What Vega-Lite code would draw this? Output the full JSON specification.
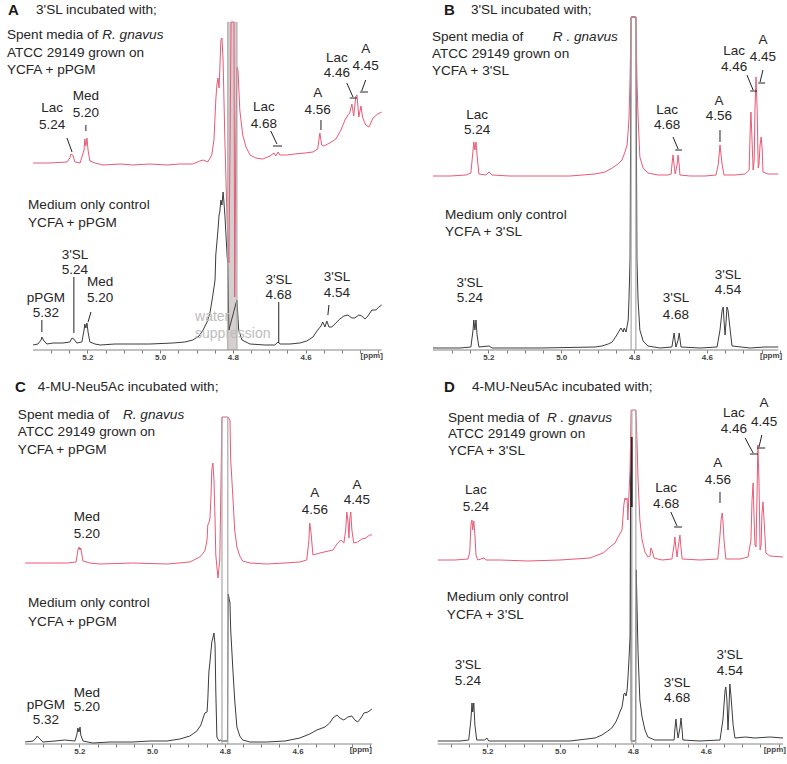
{
"$schema":"https://vega.github.io/schema/vega-lite/v6.json",
"padding":0,"background":"white","bounds":"flush","columns":2,"spacing":{"row":28,"column":40},
"config":{"view":{"stroke":null},"font":"Liberation Sans","axis":{"domain":false,"grid":false,"tickSize":3,"tickColor":"#555","tickWidth":0.8,"labelFontSize":8,"labelFontWeight":"bold","labelColor":"#444","labelPadding":0,"title":null,"labelOverlap":false}},
"datasets":{
"spec":[
{"p":"A","s":"r","x":5.349,"y":187},{"p":"A","s":"r","x":5.303,"y":187},{"p":"A","s":"r","x":5.256,"y":188},{"p":"A","s":"r","x":5.248,"y":192},{"p":"A","s":"r","x":5.245,"y":196},{"p":"A","s":"r","x":5.240,"y":195},{"p":"A","s":"r","x":5.234,"y":188},{"p":"A","s":"r","x":5.220,"y":187},{"p":"A","s":"r","x":5.209,"y":200},{"p":"A","s":"r","x":5.207,"y":211},{"p":"A","s":"r","x":5.204,"y":204},{"p":"A","s":"r","x":5.201,"y":212},{"p":"A","s":"r","x":5.198,"y":200},{"p":"A","s":"r","x":5.193,"y":189},{"p":"A","s":"r","x":5.179,"y":187},{"p":"A","s":"r","x":5.157,"y":185},{"p":"A","s":"r","x":5.110,"y":186},{"p":"A","s":"r","x":5.075,"y":185},{"p":"A","s":"r","x":5.028,"y":186},{"p":"A","s":"r","x":4.981,"y":185},{"p":"A","s":"r","x":4.946,"y":186},{"p":"A","s":"r","x":4.910,"y":186},{"p":"A","s":"r","x":4.891,"y":189},{"p":"A","s":"r","x":4.882,"y":190},{"p":"A","s":"r","x":4.869,"y":188},{"p":"A","s":"r","x":4.858,"y":195},{"p":"A","s":"r","x":4.852,"y":210},{"p":"A","s":"r","x":4.847,"y":250},{"p":"A","s":"r","x":4.844,"y":265},{"p":"A","s":"r","x":4.841,"y":272},{"p":"A","s":"r","x":4.838,"y":262},{"p":"A","s":"r","x":4.836,"y":280},{"p":"A","s":"r","x":4.833,"y":310},{"p":"A","s":"r","x":4.830,"y":312},{"p":"A","s":"r","x":4.827,"y":290},{"p":"A","s":"r","x":4.822,"y":210},{"p":"A","s":"r","x":4.816,"y":130},{"p":"A","s":"r","x":4.811,"y":87},{"p":"A","s":"r","x":4.808,"y":200},{"p":"A","s":"r","x":4.805,"y":328},{"p":"A","s":"r","x":4.797,"y":328},{"p":"A","s":"r","x":4.795,"y":53},{"p":"A","s":"r","x":4.792,"y":200},{"p":"A","s":"r","x":4.789,"y":283},{"p":"A","s":"r","x":4.786,"y":280},{"p":"A","s":"r","x":4.781,"y":240},{"p":"A","s":"r","x":4.773,"y":215},{"p":"A","s":"r","x":4.764,"y":203},{"p":"A","s":"r","x":4.753,"y":195},{"p":"A","s":"r","x":4.737,"y":192},{"p":"A","s":"r","x":4.718,"y":191},{"p":"A","s":"r","x":4.698,"y":194},{"p":"A","s":"r","x":4.687,"y":197},{"p":"A","s":"r","x":4.682,"y":194},{"p":"A","s":"r","x":4.676,"y":198},{"p":"A","s":"r","x":4.671,"y":195},{"p":"A","s":"r","x":4.652,"y":195},{"p":"A","s":"r","x":4.630,"y":196},{"p":"A","s":"r","x":4.602,"y":197},{"p":"A","s":"r","x":4.580,"y":198},{"p":"A","s":"r","x":4.567,"y":201},{"p":"A","s":"r","x":4.561,"y":217},{"p":"A","s":"r","x":4.556,"y":205},{"p":"A","s":"r","x":4.550,"y":204},{"p":"A","s":"r","x":4.534,"y":207},{"p":"A","s":"r","x":4.517,"y":211},{"p":"A","s":"r","x":4.503,"y":220},{"p":"A","s":"r","x":4.492,"y":230},{"p":"A","s":"r","x":4.484,"y":235},{"p":"A","s":"r","x":4.479,"y":237},{"p":"A","s":"r","x":4.473,"y":246},{"p":"A","s":"r","x":4.468,"y":234},{"p":"A","s":"r","x":4.462,"y":254},{"p":"A","s":"r","x":4.459,"y":255},{"p":"A","s":"r","x":4.454,"y":233},{"p":"A","s":"r","x":4.448,"y":244},{"p":"A","s":"r","x":4.443,"y":232},{"p":"A","s":"r","x":4.435,"y":225},{"p":"A","s":"r","x":4.426,"y":223},{"p":"A","s":"r","x":4.415,"y":232},{"p":"A","s":"r","x":4.402,"y":236},{"p":"A","s":"r","x":4.391,"y":238},
{"p":"A","s":"k","x":5.349,"y":5},{"p":"A","s":"k","x":5.336,"y":6},{"p":"A","s":"k","x":5.327,"y":10},{"p":"A","s":"k","x":5.325,"y":13},{"p":"A","s":"k","x":5.319,"y":9},{"p":"A","s":"k","x":5.311,"y":6},{"p":"A","s":"k","x":5.294,"y":7},{"p":"A","s":"k","x":5.267,"y":7},{"p":"A","s":"k","x":5.248,"y":8},{"p":"A","s":"k","x":5.242,"y":12},{"p":"A","s":"k","x":5.237,"y":11},{"p":"A","s":"k","x":5.229,"y":7},{"p":"A","s":"k","x":5.215,"y":8},{"p":"A","s":"k","x":5.209,"y":20},{"p":"A","s":"k","x":5.207,"y":26},{"p":"A","s":"k","x":5.204,"y":22},{"p":"A","s":"k","x":5.201,"y":27},{"p":"A","s":"k","x":5.198,"y":18},{"p":"A","s":"k","x":5.193,"y":8},{"p":"A","s":"k","x":5.179,"y":6},{"p":"A","s":"k","x":5.165,"y":5},{"p":"A","s":"k","x":5.124,"y":6},{"p":"A","s":"k","x":5.075,"y":6},{"p":"A","s":"k","x":5.028,"y":6},{"p":"A","s":"k","x":4.965,"y":7},{"p":"A","s":"k","x":4.932,"y":8},{"p":"A","s":"k","x":4.910,"y":10},{"p":"A","s":"k","x":4.893,"y":14},{"p":"A","s":"k","x":4.882,"y":20},{"p":"A","s":"k","x":4.871,"y":28},{"p":"A","s":"k","x":4.863,"y":37},{"p":"A","s":"k","x":4.855,"y":55},{"p":"A","s":"k","x":4.849,"y":70},{"p":"A","s":"k","x":4.847,"y":95},{"p":"A","s":"k","x":4.841,"y":120},{"p":"A","s":"k","x":4.838,"y":135},{"p":"A","s":"k","x":4.836,"y":138},{"p":"A","s":"k","x":4.833,"y":150},{"p":"A","s":"k","x":4.830,"y":145},{"p":"A","s":"k","x":4.827,"y":158},{"p":"A","s":"k","x":4.825,"y":150},{"p":"A","s":"k","x":4.822,"y":135},{"p":"A","s":"k","x":4.819,"y":115},{"p":"A","s":"k","x":4.816,"y":95},{"p":"A","s":"k","x":4.814,"y":85},{"p":"A","s":"k","x":4.811,"y":20},{"p":"A","s":"k","x":4.789,"y":50},{"p":"A","s":"k","x":4.784,"y":20},{"p":"A","s":"k","x":4.775,"y":10},{"p":"A","s":"k","x":4.753,"y":6},{"p":"A","s":"k","x":4.712,"y":5},{"p":"A","s":"k","x":4.685,"y":5},{"p":"A","s":"k","x":4.676,"y":8},{"p":"A","s":"k","x":4.671,"y":6},{"p":"A","s":"k","x":4.643,"y":6},{"p":"A","s":"k","x":4.616,"y":7},{"p":"A","s":"k","x":4.597,"y":9},{"p":"A","s":"k","x":4.580,"y":13},{"p":"A","s":"k","x":4.567,"y":20},{"p":"A","s":"k","x":4.558,"y":24},{"p":"A","s":"k","x":4.553,"y":28},{"p":"A","s":"k","x":4.547,"y":23},{"p":"A","s":"k","x":4.542,"y":29},{"p":"A","s":"k","x":4.536,"y":23},{"p":"A","s":"k","x":4.528,"y":23},{"p":"A","s":"k","x":4.517,"y":27},{"p":"A","s":"k","x":4.506,"y":31},{"p":"A","s":"k","x":4.495,"y":34},{"p":"A","s":"k","x":4.484,"y":35},{"p":"A","s":"k","x":4.473,"y":32},{"p":"A","s":"k","x":4.465,"y":32},{"p":"A","s":"k","x":4.454,"y":35},{"p":"A","s":"k","x":4.446,"y":34},{"p":"A","s":"k","x":4.437,"y":31},{"p":"A","s":"k","x":4.429,"y":34},{"p":"A","s":"k","x":4.418,"y":40},{"p":"A","s":"k","x":4.407,"y":40},{"p":"A","s":"k","x":4.399,"y":43},{"p":"A","s":"k","x":4.391,"y":45},
{"p":"B","s":"r","x":5.352,"y":174},{"p":"B","s":"r","x":5.305,"y":174},{"p":"B","s":"r","x":5.261,"y":175},{"p":"B","s":"r","x":5.248,"y":177},{"p":"B","s":"r","x":5.242,"y":200},{"p":"B","s":"r","x":5.240,"y":208},{"p":"B","s":"r","x":5.237,"y":200},{"p":"B","s":"r","x":5.234,"y":208},{"p":"B","s":"r","x":5.231,"y":195},{"p":"B","s":"r","x":5.226,"y":176},{"p":"B","s":"r","x":5.207,"y":175},{"p":"B","s":"r","x":5.198,"y":178},{"p":"B","s":"r","x":5.190,"y":175},{"p":"B","s":"r","x":5.141,"y":174},{"p":"B","s":"r","x":5.058,"y":174},{"p":"B","s":"r","x":4.976,"y":174},{"p":"B","s":"r","x":4.907,"y":176},{"p":"B","s":"r","x":4.880,"y":178},{"p":"B","s":"r","x":4.860,"y":182},{"p":"B","s":"r","x":4.844,"y":186},{"p":"B","s":"r","x":4.833,"y":190},{"p":"B","s":"r","x":4.825,"y":198},{"p":"B","s":"r","x":4.819,"y":205},{"p":"B","s":"r","x":4.814,"y":230},{"p":"B","s":"r","x":4.811,"y":270},{"p":"B","s":"r","x":4.808,"y":333},{"p":"B","s":"r","x":4.795,"y":333},{"p":"B","s":"r","x":4.792,"y":270},{"p":"B","s":"r","x":4.789,"y":233},{"p":"B","s":"r","x":4.784,"y":193},{"p":"B","s":"r","x":4.775,"y":182},{"p":"B","s":"r","x":4.762,"y":177},{"p":"B","s":"r","x":4.734,"y":175},{"p":"B","s":"r","x":4.707,"y":175},{"p":"B","s":"r","x":4.698,"y":176},{"p":"B","s":"r","x":4.696,"y":185},{"p":"B","s":"r","x":4.693,"y":195},{"p":"B","s":"r","x":4.690,"y":185},{"p":"B","s":"r","x":4.687,"y":176},{"p":"B","s":"r","x":4.682,"y":185},{"p":"B","s":"r","x":4.679,"y":195},{"p":"B","s":"r","x":4.676,"y":185},{"p":"B","s":"r","x":4.674,"y":175},{"p":"B","s":"r","x":4.646,"y":174},{"p":"B","s":"r","x":4.605,"y":174},{"p":"B","s":"r","x":4.575,"y":175},{"p":"B","s":"r","x":4.569,"y":185},{"p":"B","s":"r","x":4.564,"y":205},{"p":"B","s":"r","x":4.558,"y":185},{"p":"B","s":"r","x":4.553,"y":175},{"p":"B","s":"r","x":4.523,"y":175},{"p":"B","s":"r","x":4.495,"y":176},{"p":"B","s":"r","x":4.484,"y":180},{"p":"B","s":"r","x":4.481,"y":220},{"p":"B","s":"r","x":4.479,"y":238},{"p":"B","s":"r","x":4.476,"y":210},{"p":"B","s":"r","x":4.473,"y":180},{"p":"B","s":"r","x":4.470,"y":190},{"p":"B","s":"r","x":4.468,"y":240},{"p":"B","s":"r","x":4.465,"y":273},{"p":"B","s":"r","x":4.462,"y":240},{"p":"B","s":"r","x":4.459,"y":182},{"p":"B","s":"r","x":4.457,"y":185},{"p":"B","s":"r","x":4.454,"y":205},{"p":"B","s":"r","x":4.451,"y":213},{"p":"B","s":"r","x":4.448,"y":200},{"p":"B","s":"r","x":4.446,"y":178},{"p":"B","s":"r","x":4.432,"y":176},{"p":"B","s":"r","x":4.404,"y":176},
{"p":"B","s":"k","x":5.352,"y":2},{"p":"B","s":"k","x":5.278,"y":2},{"p":"B","s":"k","x":5.248,"y":3},{"p":"B","s":"k","x":5.242,"y":20},{"p":"B","s":"k","x":5.240,"y":30},{"p":"B","s":"k","x":5.237,"y":20},{"p":"B","s":"k","x":5.234,"y":30},{"p":"B","s":"k","x":5.231,"y":15},{"p":"B","s":"k","x":5.226,"y":3},{"p":"B","s":"k","x":5.198,"y":4},{"p":"B","s":"k","x":5.190,"y":2},{"p":"B","s":"k","x":5.058,"y":2},{"p":"B","s":"k","x":4.907,"y":3},{"p":"B","s":"k","x":4.888,"y":4},{"p":"B","s":"k","x":4.871,"y":6},{"p":"B","s":"k","x":4.860,"y":8},{"p":"B","s":"k","x":4.849,"y":14},{"p":"B","s":"k","x":4.841,"y":19},{"p":"B","s":"k","x":4.836,"y":22},{"p":"B","s":"k","x":4.830,"y":18},{"p":"B","s":"k","x":4.827,"y":22},{"p":"B","s":"k","x":4.822,"y":18},{"p":"B","s":"k","x":4.816,"y":30},{"p":"B","s":"k","x":4.814,"y":50},{"p":"B","s":"k","x":4.811,"y":90},{"p":"B","s":"k","x":4.808,"y":333},{"p":"B","s":"k","x":4.795,"y":333},{"p":"B","s":"k","x":4.792,"y":90},{"p":"B","s":"k","x":4.789,"y":50},{"p":"B","s":"k","x":4.784,"y":20},{"p":"B","s":"k","x":4.775,"y":9},{"p":"B","s":"k","x":4.762,"y":4},{"p":"B","s":"k","x":4.729,"y":2},{"p":"B","s":"k","x":4.696,"y":3},{"p":"B","s":"k","x":4.693,"y":10},{"p":"B","s":"k","x":4.690,"y":17},{"p":"B","s":"k","x":4.685,"y":3},{"p":"B","s":"k","x":4.679,"y":10},{"p":"B","s":"k","x":4.676,"y":17},{"p":"B","s":"k","x":4.671,"y":3},{"p":"B","s":"k","x":4.619,"y":2},{"p":"B","s":"k","x":4.572,"y":3},{"p":"B","s":"k","x":4.564,"y":20},{"p":"B","s":"k","x":4.558,"y":40},{"p":"B","s":"k","x":4.555,"y":43},{"p":"B","s":"k","x":4.553,"y":30},{"p":"B","s":"k","x":4.550,"y":15},{"p":"B","s":"k","x":4.547,"y":30},{"p":"B","s":"k","x":4.545,"y":43},{"p":"B","s":"k","x":4.542,"y":40},{"p":"B","s":"k","x":4.536,"y":20},{"p":"B","s":"k","x":4.531,"y":4},{"p":"B","s":"k","x":4.481,"y":2},{"p":"B","s":"k","x":4.440,"y":3},{"p":"B","s":"k","x":4.404,"y":3},
{"p":"C","s":"r","x":5.349,"y":181},{"p":"C","s":"r","x":5.294,"y":181},{"p":"C","s":"r","x":5.234,"y":181},{"p":"C","s":"r","x":5.209,"y":182},{"p":"C","s":"r","x":5.204,"y":194},{"p":"C","s":"r","x":5.201,"y":197},{"p":"C","s":"r","x":5.198,"y":194},{"p":"C","s":"r","x":5.196,"y":196},{"p":"C","s":"r","x":5.190,"y":183},{"p":"C","s":"r","x":5.171,"y":181},{"p":"C","s":"r","x":5.143,"y":180},{"p":"C","s":"r","x":5.053,"y":181},{"p":"C","s":"r","x":4.959,"y":180},{"p":"C","s":"r","x":4.896,"y":182},{"p":"C","s":"r","x":4.869,"y":187},{"p":"C","s":"r","x":4.855,"y":193},{"p":"C","s":"r","x":4.849,"y":204},{"p":"C","s":"r","x":4.847,"y":219},{"p":"C","s":"r","x":4.844,"y":221},{"p":"C","s":"r","x":4.841,"y":226},{"p":"C","s":"r","x":4.838,"y":249},{"p":"C","s":"r","x":4.836,"y":274},{"p":"C","s":"r","x":4.833,"y":281},{"p":"C","s":"r","x":4.830,"y":264},{"p":"C","s":"r","x":4.827,"y":224},{"p":"C","s":"r","x":4.825,"y":189},{"p":"C","s":"r","x":4.819,"y":166},{"p":"C","s":"r","x":4.814,"y":184},{"p":"C","s":"r","x":4.808,"y":327},{"p":"C","s":"r","x":4.792,"y":327},{"p":"C","s":"r","x":4.786,"y":324},{"p":"C","s":"r","x":4.784,"y":284},{"p":"C","s":"r","x":4.778,"y":247},{"p":"C","s":"r","x":4.773,"y":214},{"p":"C","s":"r","x":4.767,"y":197},{"p":"C","s":"r","x":4.759,"y":188},{"p":"C","s":"r","x":4.751,"y":183},{"p":"C","s":"r","x":4.731,"y":181},{"p":"C","s":"r","x":4.685,"y":180},{"p":"C","s":"r","x":4.635,"y":181},{"p":"C","s":"r","x":4.594,"y":182},{"p":"C","s":"r","x":4.575,"y":184},{"p":"C","s":"r","x":4.569,"y":204},{"p":"C","s":"r","x":4.567,"y":221},{"p":"C","s":"r","x":4.564,"y":214},{"p":"C","s":"r","x":4.558,"y":189},{"p":"C","s":"r","x":4.539,"y":191},{"p":"C","s":"r","x":4.503,"y":194},{"p":"C","s":"r","x":4.490,"y":201},{"p":"C","s":"r","x":4.481,"y":204},{"p":"C","s":"r","x":4.473,"y":201},{"p":"C","s":"r","x":4.468,"y":214},{"p":"C","s":"r","x":4.465,"y":232},{"p":"C","s":"r","x":4.462,"y":224},{"p":"C","s":"r","x":4.459,"y":206},{"p":"C","s":"r","x":4.457,"y":224},{"p":"C","s":"r","x":4.454,"y":232},{"p":"C","s":"r","x":4.451,"y":214},{"p":"C","s":"r","x":4.446,"y":201},{"p":"C","s":"r","x":4.435,"y":202},{"p":"C","s":"r","x":4.424,"y":205},{"p":"C","s":"r","x":4.413,"y":206},{"p":"C","s":"r","x":4.402,"y":209},{"p":"C","s":"r","x":4.396,"y":209},
{"p":"C","s":"k","x":5.349,"y":2},{"p":"C","s":"k","x":5.327,"y":3},{"p":"C","s":"k","x":5.319,"y":6},{"p":"C","s":"k","x":5.316,"y":8},{"p":"C","s":"k","x":5.311,"y":6},{"p":"C","s":"k","x":5.300,"y":2},{"p":"C","s":"k","x":5.267,"y":3},{"p":"C","s":"k","x":5.240,"y":4},{"p":"C","s":"k","x":5.212,"y":3},{"p":"C","s":"k","x":5.207,"y":9},{"p":"C","s":"k","x":5.204,"y":16},{"p":"C","s":"k","x":5.201,"y":12},{"p":"C","s":"k","x":5.198,"y":17},{"p":"C","s":"k","x":5.196,"y":9},{"p":"C","s":"k","x":5.190,"y":3},{"p":"C","s":"k","x":5.163,"y":1},{"p":"C","s":"k","x":5.116,"y":2},{"p":"C","s":"k","x":5.053,"y":2},{"p":"C","s":"k","x":5.006,"y":3},{"p":"C","s":"k","x":4.959,"y":3},{"p":"C","s":"k","x":4.924,"y":5},{"p":"C","s":"k","x":4.896,"y":8},{"p":"C","s":"k","x":4.877,"y":13},{"p":"C","s":"k","x":4.866,"y":19},{"p":"C","s":"k","x":4.858,"y":28},{"p":"C","s":"k","x":4.855,"y":31},{"p":"C","s":"k","x":4.849,"y":32},{"p":"C","s":"k","x":4.847,"y":44},{"p":"C","s":"k","x":4.844,"y":72},{"p":"C","s":"k","x":4.841,"y":82},{"p":"C","s":"k","x":4.838,"y":94},{"p":"C","s":"k","x":4.836,"y":102},{"p":"C","s":"k","x":4.833,"y":106},{"p":"C","s":"k","x":4.830,"y":111},{"p":"C","s":"k","x":4.827,"y":99},{"p":"C","s":"k","x":4.825,"y":54},{"p":"C","s":"k","x":4.822,"y":7},{"p":"C","s":"k","x":4.816,"y":3},{"p":"C","s":"k","x":4.811,"y":4},{"p":"C","s":"k","x":4.808,"y":3},{"p":"C","s":"k","x":4.793,"y":3},{"p":"C","s":"k","x":4.791,"y":150},{"p":"C","s":"k","x":4.786,"y":141},{"p":"C","s":"k","x":4.784,"y":114},{"p":"C","s":"k","x":4.778,"y":74},{"p":"C","s":"k","x":4.773,"y":44},{"p":"C","s":"k","x":4.767,"y":17},{"p":"C","s":"k","x":4.759,"y":8},{"p":"C","s":"k","x":4.751,"y":4},{"p":"C","s":"k","x":4.731,"y":2},{"p":"C","s":"k","x":4.685,"y":2},{"p":"C","s":"k","x":4.635,"y":3},{"p":"C","s":"k","x":4.594,"y":6},{"p":"C","s":"k","x":4.567,"y":10},{"p":"C","s":"k","x":4.547,"y":14},{"p":"C","s":"k","x":4.525,"y":17},{"p":"C","s":"k","x":4.512,"y":21},{"p":"C","s":"k","x":4.503,"y":26},{"p":"C","s":"k","x":4.492,"y":29},{"p":"C","s":"k","x":4.484,"y":26},{"p":"C","s":"k","x":4.473,"y":24},{"p":"C","s":"k","x":4.462,"y":27},{"p":"C","s":"k","x":4.451,"y":28},{"p":"C","s":"k","x":4.443,"y":24},{"p":"C","s":"k","x":4.435,"y":22},{"p":"C","s":"k","x":4.426,"y":26},{"p":"C","s":"k","x":4.418,"y":31},{"p":"C","s":"k","x":4.407,"y":32},{"p":"C","s":"k","x":4.396,"y":35},
{"p":"D","s":"r","x":5.336,"y":184},{"p":"D","s":"r","x":5.289,"y":184},{"p":"D","s":"r","x":5.253,"y":185},{"p":"D","s":"r","x":5.248,"y":192},{"p":"D","s":"r","x":5.245,"y":219},{"p":"D","s":"r","x":5.242,"y":224},{"p":"D","s":"r","x":5.240,"y":214},{"p":"D","s":"r","x":5.237,"y":223},{"p":"D","s":"r","x":5.234,"y":209},{"p":"D","s":"r","x":5.231,"y":189},{"p":"D","s":"r","x":5.226,"y":184},{"p":"D","s":"r","x":5.209,"y":186},{"p":"D","s":"r","x":5.204,"y":184},{"p":"D","s":"r","x":5.165,"y":184},{"p":"D","s":"r","x":5.088,"y":183},{"p":"D","s":"r","x":5.001,"y":184},{"p":"D","s":"r","x":4.918,"y":186},{"p":"D","s":"r","x":4.882,"y":191},{"p":"D","s":"r","x":4.863,"y":197},{"p":"D","s":"r","x":4.849,"y":201},{"p":"D","s":"r","x":4.841,"y":207},{"p":"D","s":"r","x":4.836,"y":210},{"p":"D","s":"r","x":4.830,"y":214},{"p":"D","s":"r","x":4.825,"y":239},{"p":"D","s":"r","x":4.822,"y":246},{"p":"D","s":"r","x":4.819,"y":244},{"p":"D","s":"r","x":4.816,"y":246},{"p":"D","s":"r","x":4.814,"y":224},{"p":"D","s":"r","x":4.808,"y":274},{"p":"D","s":"r","x":4.805,"y":334},{"p":"D","s":"r","x":4.792,"y":334},{"p":"D","s":"r","x":4.789,"y":304},{"p":"D","s":"r","x":4.786,"y":264},{"p":"D","s":"r","x":4.781,"y":224},{"p":"D","s":"r","x":4.775,"y":204},{"p":"D","s":"r","x":4.767,"y":192},{"p":"D","s":"r","x":4.759,"y":187},{"p":"D","s":"r","x":4.753,"y":188},{"p":"D","s":"r","x":4.751,"y":196},{"p":"D","s":"r","x":4.748,"y":194},{"p":"D","s":"r","x":4.742,"y":186},{"p":"D","s":"r","x":4.720,"y":184},{"p":"D","s":"r","x":4.693,"y":185},{"p":"D","s":"r","x":4.687,"y":199},{"p":"D","s":"r","x":4.685,"y":207},{"p":"D","s":"r","x":4.682,"y":196},{"p":"D","s":"r","x":4.679,"y":187},{"p":"D","s":"r","x":4.676,"y":196},{"p":"D","s":"r","x":4.671,"y":209},{"p":"D","s":"r","x":4.668,"y":196},{"p":"D","s":"r","x":4.665,"y":185},{"p":"D","s":"r","x":4.616,"y":184},{"p":"D","s":"r","x":4.567,"y":185},{"p":"D","s":"r","x":4.561,"y":209},{"p":"D","s":"r","x":4.558,"y":224},{"p":"D","s":"r","x":4.555,"y":231},{"p":"D","s":"r","x":4.553,"y":224},{"p":"D","s":"r","x":4.550,"y":204},{"p":"D","s":"r","x":4.545,"y":185},{"p":"D","s":"r","x":4.506,"y":185},{"p":"D","s":"r","x":4.484,"y":187},{"p":"D","s":"r","x":4.476,"y":204},{"p":"D","s":"r","x":4.473,"y":244},{"p":"D","s":"r","x":4.470,"y":261},{"p":"D","s":"r","x":4.468,"y":234},{"p":"D","s":"r","x":4.465,"y":199},{"p":"D","s":"r","x":4.462,"y":197},{"p":"D","s":"r","x":4.459,"y":254},{"p":"D","s":"r","x":4.457,"y":299},{"p":"D","s":"r","x":4.454,"y":264},{"p":"D","s":"r","x":4.451,"y":194},{"p":"D","s":"r","x":4.448,"y":199},{"p":"D","s":"r","x":4.446,"y":229},{"p":"D","s":"r","x":4.443,"y":242},{"p":"D","s":"r","x":4.440,"y":224},{"p":"D","s":"r","x":4.435,"y":191},{"p":"D","s":"r","x":4.424,"y":188},{"p":"D","s":"r","x":4.388,"y":187},
{"p":"D","s":"k","x":5.336,"y":3},{"p":"D","s":"k","x":5.275,"y":3},{"p":"D","s":"k","x":5.251,"y":4},{"p":"D","s":"k","x":5.245,"y":24},{"p":"D","s":"k","x":5.242,"y":41},{"p":"D","s":"k","x":5.240,"y":32},{"p":"D","s":"k","x":5.237,"y":41},{"p":"D","s":"k","x":5.234,"y":19},{"p":"D","s":"k","x":5.229,"y":4},{"p":"D","s":"k","x":5.207,"y":4},{"p":"D","s":"k","x":5.201,"y":6},{"p":"D","s":"k","x":5.196,"y":3},{"p":"D","s":"k","x":5.088,"y":3},{"p":"D","s":"k","x":4.973,"y":3},{"p":"D","s":"k","x":4.904,"y":6},{"p":"D","s":"k","x":4.885,"y":9},{"p":"D","s":"k","x":4.869,"y":13},{"p":"D","s":"k","x":4.858,"y":16},{"p":"D","s":"k","x":4.847,"y":22},{"p":"D","s":"k","x":4.841,"y":27},{"p":"D","s":"k","x":4.836,"y":32},{"p":"D","s":"k","x":4.830,"y":37},{"p":"D","s":"k","x":4.827,"y":44},{"p":"D","s":"k","x":4.825,"y":50},{"p":"D","s":"k","x":4.822,"y":51},{"p":"D","s":"k","x":4.819,"y":48},{"p":"D","s":"k","x":4.816,"y":54},{"p":"D","s":"k","x":4.814,"y":64},{"p":"D","s":"k","x":4.811,"y":84},{"p":"D","s":"k","x":4.808,"y":107},{"p":"D","s":"k","x":4.806,"y":307},{"p":"D","s":"k","x":4.805,"y":3},{"p":"D","s":"k","x":4.793,"y":3},{"p":"D","s":"k","x":4.791,"y":174},{"p":"D","s":"k","x":4.786,"y":91},{"p":"D","s":"k","x":4.781,"y":44},{"p":"D","s":"k","x":4.775,"y":27},{"p":"D","s":"k","x":4.767,"y":14},{"p":"D","s":"k","x":4.759,"y":7},{"p":"D","s":"k","x":4.740,"y":4},{"p":"D","s":"k","x":4.720,"y":4},{"p":"D","s":"k","x":4.687,"y":4},{"p":"D","s":"k","x":4.685,"y":14},{"p":"D","s":"k","x":4.682,"y":25},{"p":"D","s":"k","x":4.679,"y":14},{"p":"D","s":"k","x":4.676,"y":6},{"p":"D","s":"k","x":4.671,"y":16},{"p":"D","s":"k","x":4.668,"y":26},{"p":"D","s":"k","x":4.665,"y":14},{"p":"D","s":"k","x":4.663,"y":4},{"p":"D","s":"k","x":4.616,"y":3},{"p":"D","s":"k","x":4.561,"y":4},{"p":"D","s":"k","x":4.553,"y":24},{"p":"D","s":"k","x":4.547,"y":54},{"p":"D","s":"k","x":4.545,"y":57},{"p":"D","s":"k","x":4.542,"y":44},{"p":"D","s":"k","x":4.539,"y":14},{"p":"D","s":"k","x":4.536,"y":39},{"p":"D","s":"k","x":4.534,"y":60},{"p":"D","s":"k","x":4.531,"y":49},{"p":"D","s":"k","x":4.525,"y":19},{"p":"D","s":"k","x":4.520,"y":6},{"p":"D","s":"k","x":4.492,"y":7},{"p":"D","s":"k","x":4.465,"y":6},{"p":"D","s":"k","x":4.424,"y":7},{"p":"D","s":"k","x":4.388,"y":6}
],
"water":[
{"p":"A","x":4.814,"y":0,"y2":328},{"p":"A","x":4.789,"y":0,"y2":328},
{"p":"B","x":4.808,"y":0,"y2":333},{"p":"B","x":4.795,"y":0,"y2":333},
{"p":"C","x":4.808,"y":0,"y2":327},{"p":"C","x":4.792,"y":0,"y2":327},
{"p":"D","x":4.803,"y":0,"y2":334},{"p":"D","x":4.792,"y":0,"y2":334}
],
"fill":[{"p":"A","x":4.813,"x2":4.790,"y":0,"y2":328}],
"dark":[{"p":"D","x":4.803,"y":237,"y2":307}],
"base":[{"p":"A","x":5.349,"x2":4.391,"y":0},{"p":"B","x":5.352,"x2":4.404,"y":0},{"p":"C","x":5.349,"x2":4.396,"y":0},{"p":"D","x":5.336,"x2":4.388,"y":0}],
"seg":[
{"p":"A","x":5.256,"x2":5.242,"y":212,"y2":198},{"p":"A","x":5.204,"x2":5.204,"y":225,"y2":219},{"p":"A","x":4.696,"x2":4.679,"y":219,"y2":206},{"p":"A","x":4.690,"x2":4.665,"y":204,"y2":204},{"p":"A","x":4.558,"x2":4.558,"y":230,"y2":220},{"p":"A","x":4.487,"x2":4.470,"y":267,"y2":253},{"p":"A","x":4.479,"x2":4.459,"y":252,"y2":252},{"p":"A","x":4.435,"x2":4.446,"y":270,"y2":259},{"p":"A","x":4.451,"x2":4.429,"y":258,"y2":258},
{"p":"A","x":5.325,"x2":5.325,"y":30,"y2":18},{"p":"A","x":5.237,"x2":5.237,"y":73,"y2":17},{"p":"A","x":5.190,"x2":5.198,"y":38,"y2":28},{"p":"A","x":4.674,"x2":4.674,"y":48,"y2":7},{"p":"A","x":4.536,"x2":4.539,"y":45,"y2":35},
{"p":"B","x":4.693,"x2":4.679,"y":213,"y2":201},{"p":"B","x":4.687,"x2":4.668,"y":200,"y2":200},{"p":"B","x":4.564,"x2":4.564,"y":220,"y2":208},{"p":"B","x":4.490,"x2":4.473,"y":275,"y2":260},{"p":"B","x":4.481,"x2":4.462,"y":259,"y2":259},{"p":"B","x":4.446,"x2":4.454,"y":280,"y2":268},{"p":"B","x":4.459,"x2":4.440,"y":267,"y2":267},
{"p":"D","x":4.696,"x2":4.679,"y":232,"y2":218},{"p":"D","x":4.687,"x2":4.665,"y":217,"y2":217},{"p":"D","x":4.561,"x2":4.561,"y":252,"y2":241},{"p":"D","x":4.492,"x2":4.470,"y":306,"y2":291},{"p":"D","x":4.479,"x2":4.457,"y":290,"y2":290},{"p":"D","x":4.446,"x2":4.454,"y":309,"y2":297},{"p":"D","x":4.459,"x2":4.437,"y":296,"y2":296}
],
"txt":[
{"p":"A","r":"letter","x":5.418,"y":340,"t":"A"},{"p":"A","r":"title","x":5.341,"y":340,"t":"3'SL incubated with;"},
{"p":"A","r":"note","x":5.421,"y":315,"t":"Spent media of"},{"p":"A","r":"species","x":5.159,"y":315,"t":"R. gnavus"},{"p":"A","r":"note","x":5.421,"y":297,"t":"ATCC 29149 grown on"},{"p":"A","r":"note","x":5.421,"y":280,"t":"YCFA + pPGM"},
{"p":"A","r":"peak","x":5.297,"y":242,"t":"Lac"},{"p":"A","r":"peak","x":5.297,"y":225,"t":"5.24"},{"p":"A","r":"peak","x":5.204,"y":254,"t":"Med"},{"p":"A","r":"peak","x":5.204,"y":237,"t":"5.20"},{"p":"A","r":"peak","x":4.715,"y":243,"t":"Lac"},{"p":"A","r":"peak","x":4.715,"y":226,"t":"4.68"},{"p":"A","r":"peak","x":4.567,"y":257,"t":"A"},{"p":"A","r":"peak","x":4.567,"y":240,"t":"4.56"},{"p":"A","r":"peak","x":4.514,"y":292,"t":"Lac"},{"p":"A","r":"peak","x":4.514,"y":277,"t":"4.46"},{"p":"A","r":"peak","x":4.435,"y":301,"t":"A"},{"p":"A","r":"peak","x":4.435,"y":284,"t":"4.45"},
{"p":"A","r":"note","x":5.363,"y":145,"t":"Medium  only control"},{"p":"A","r":"note","x":5.363,"y":127,"t":"YCFA + pPGM"},
{"p":"A","r":"peak","x":5.314,"y":52,"t":"pPGM"},{"p":"A","r":"peak","x":5.314,"y":37,"t":"5.32"},{"p":"A","r":"peak","x":5.234,"y":95,"t":"3'SL"},{"p":"A","r":"peak","x":5.234,"y":80,"t":"5.24"},{"p":"A","r":"peak","x":5.165,"y":68,"t":"Med"},{"p":"A","r":"peak","x":5.165,"y":52,"t":"5.20"},{"p":"A","r":"peak","x":4.674,"y":70,"t":"3'SL"},{"p":"A","r":"peak","x":4.674,"y":55,"t":"4.68"},{"p":"A","r":"peak","x":4.514,"y":73,"t":"3'SL"},{"p":"A","r":"peak","x":4.514,"y":57,"t":"4.54"},
{"p":"A","r":"water","x":4.904,"y":33,"t":"water"},{"p":"A","r":"water","x":4.904,"y":16,"t":"suppression"},{"p":"A","r":"unit","x":4.388,"y":-6,"t":"[ppm]"},
{"p":"B","r":"letter","x":5.322,"y":340,"t":"B"},{"p":"B","r":"title","x":5.248,"y":340,"t":"3'SL incubated with;"},
{"p":"B","r":"note","x":5.355,"y":313,"t":"Spent media of"},{"p":"B","r":"species","x":5.023,"y":313,"t":"R . gnavus"},{"p":"B","r":"note","x":5.355,"y":296,"t":"ATCC 29149 grown on"},{"p":"B","r":"note","x":5.355,"y":279,"t":"YCFA + 3'SL"},
{"p":"B","r":"peak","x":5.231,"y":235,"t":"Lac"},{"p":"B","r":"peak","x":5.231,"y":220,"t":"5.24"},{"p":"B","r":"peak","x":4.709,"y":240,"t":"Lac"},{"p":"B","r":"peak","x":4.709,"y":225,"t":"4.68"},{"p":"B","r":"peak","x":4.567,"y":249,"t":"A"},{"p":"B","r":"peak","x":4.567,"y":234,"t":"4.56"},{"p":"B","r":"peak","x":4.525,"y":299,"t":"Lac"},{"p":"B","r":"peak","x":4.525,"y":283,"t":"4.46"},{"p":"B","r":"peak","x":4.446,"y":310,"t":"A"},{"p":"B","r":"peak","x":4.446,"y":293,"t":"4.45"},
{"p":"B","r":"note","x":5.319,"y":135,"t":"Medium only control"},{"p":"B","r":"note","x":5.319,"y":118,"t":"YCFA + 3'SL"},
{"p":"B","r":"peak","x":5.251,"y":67,"t":"3'SL"},{"p":"B","r":"peak","x":5.251,"y":52,"t":"5.24"},{"p":"B","r":"peak","x":4.685,"y":52,"t":"3'SL"},{"p":"B","r":"peak","x":4.685,"y":35,"t":"4.68"},{"p":"B","r":"peak","x":4.542,"y":75,"t":"3'SL"},{"p":"B","r":"peak","x":4.542,"y":60,"t":"4.54"},
{"p":"B","r":"unit","x":4.393,"y":-6,"t":"[ppm]"},
{"p":"C","r":"letter","x":5.377,"y":357,"t":"C"},{"p":"C","r":"title","x":5.314,"y":357,"t":"4-MU-Neu5Ac incubated with;"},
{"p":"C","r":"note","x":5.369,"y":329,"t":"Spent media of"},{"p":"C","r":"species","x":5.080,"y":329,"t":"R.  gnavus"},{"p":"C","r":"note","x":5.369,"y":312,"t":"ATCC 29149 grown on"},{"p":"C","r":"note","x":5.369,"y":294,"t":"YCFA + pPGM"},
{"p":"C","r":"peak","x":5.179,"y":227,"t":"Med"},{"p":"C","r":"peak","x":5.179,"y":210,"t":"5.20"},{"p":"C","r":"peak","x":4.553,"y":251,"t":"A"},{"p":"C","r":"peak","x":4.553,"y":234,"t":"4.56"},{"p":"C","r":"peak","x":4.437,"y":259,"t":"A"},{"p":"C","r":"peak","x":4.437,"y":244,"t":"4.45"},
{"p":"C","r":"note","x":5.341,"y":141,"t":"Medium  only control"},{"p":"C","r":"note","x":5.341,"y":122,"t":"YCFA + pPGM"},
{"p":"C","r":"peak","x":5.292,"y":39,"t":"pPGM"},{"p":"C","r":"peak","x":5.292,"y":24,"t":"5.32"},{"p":"C","r":"peak","x":5.179,"y":51,"t":"Med"},{"p":"C","r":"peak","x":5.179,"y":37,"t":"5.20"},
{"p":"C","r":"unit","x":4.396,"y":-6,"t":"[ppm]"},
{"p":"D","r":"letter","x":5.319,"y":357,"t":"D"},{"p":"D","r":"title","x":5.242,"y":357,"t":"4-MU-Neu5Ac incubated with;"},
{"p":"D","r":"note","x":5.308,"y":326,"t":"Spent media of"},{"p":"D","r":"species","x":5.036,"y":326,"t":"R . gnavus"},{"p":"D","r":"note","x":5.308,"y":310,"t":"ATCC 29149 grown on"},{"p":"D","r":"note","x":5.308,"y":293,"t":"YCFA + 3'SL"},
{"p":"D","r":"peak","x":5.231,"y":254,"t":"Lac"},{"p":"D","r":"peak","x":5.231,"y":237,"t":"5.24"},{"p":"D","r":"peak","x":4.709,"y":256,"t":"Lac"},{"p":"D","r":"peak","x":4.709,"y":240,"t":"4.68"},{"p":"D","r":"peak","x":4.567,"y":281,"t":"A"},{"p":"D","r":"peak","x":4.567,"y":264,"t":"4.56"},{"p":"D","r":"peak","x":4.523,"y":331,"t":"Lac"},{"p":"D","r":"peak","x":4.523,"y":315,"t":"4.46"},{"p":"D","r":"peak","x":4.440,"y":341,"t":"A"},{"p":"D","r":"peak","x":4.440,"y":322,"t":"4.45"},
{"p":"D","r":"note","x":5.311,"y":147,"t":"Medium  only control"},{"p":"D","r":"note","x":5.311,"y":129,"t":"YCFA + 3'SL"},
{"p":"D","r":"peak","x":5.253,"y":79,"t":"3'SL"},{"p":"D","r":"peak","x":5.253,"y":63,"t":"5.24"},{"p":"D","r":"peak","x":4.679,"y":61,"t":"3'SL"},{"p":"D","r":"peak","x":4.679,"y":46,"t":"4.68"},{"p":"D","r":"peak","x":4.534,"y":89,"t":"3'SL"},{"p":"D","r":"peak","x":4.534,"y":73,"t":"4.54"},
{"p":"D","r":"unit","x":4.380,"y":-6,"t":"[ppm]"}
]
},
"concat":[
{"width":385,"height":350,
"encoding":{"x":{"field":"x","type":"quantitative","scale":{"domain":[5.44,4.382],"nice":false,"zero":false},"axis":{"values":[5.3,5.25,5.2,5.15,5.1,5.05,5.0,4.95,4.9,4.85,4.8,4.75,4.7,4.65,4.6,4.55,4.5,4.45,4.4],"labelExpr":"(abs(datum.value*5-round(datum.value*5))<0.01 && datum.value>4.5) ? format(datum.value,'.1f') : ''"}},
"y":{"field":"y","type":"quantitative","scale":{"domain":[0,350],"nice":false,"zero":false},"axis":null}},
"layer":[
{"data":{"name":"fill"},"transform":[{"filter":"datum.p=='A'"}],"mark":{"type":"rect","color":"#d6cfd0"},"encoding":{"x2":{"field":"x2"},"y2":{"field":"y2"}}},
{"data":{"name":"base"},"transform":[{"filter":"datum.p=='A'"}],"mark":{"type":"rule","color":"#666","strokeWidth":0.8},"encoding":{"x2":{"field":"x2"}}},
{"data":{"name":"spec"},"transform":[{"filter":"datum.p=='A' && datum.s=='k'"}],"mark":{"type":"line","color":"#3c3c3c","strokeWidth":1},"encoding":{}},
{"data":{"name":"spec"},"transform":[{"filter":"datum.p=='A' && datum.s=='r'"}],"mark":{"type":"line","color":"#e95a76","strokeWidth":1},"encoding":{}},
{"data":{"name":"water"},"transform":[{"filter":"datum.p=='A'"}],"mark":{"type":"rule","color":"#a8a8a8","strokeWidth":1.2},"encoding":{"y2":{"field":"y2"}}},
{"data":{"name":"seg"},"transform":[{"filter":"datum.p=='A'"}],"mark":{"type":"rule","color":"#222","strokeWidth":1},"encoding":{"x2":{"field":"x2"},"y2":{"field":"y2"}}},
{"data":{"name":"txt"},"transform":[{"filter":"datum.p=='A' && datum.r=='letter'"}],"mark":{"type":"text","align":"left","baseline":"middle","fontSize":15,"fontWeight":"bold","color":"#1a1a1a"},"encoding":{"text":{"field":"t"}}},
{"data":{"name":"txt"},"transform":[{"filter":"datum.p=='A' && (datum.r=='title' || datum.r=='note')"}],"mark":{"type":"text","align":"left","baseline":"middle","fontSize":13.6,"color":"#262626"},"encoding":{"text":{"field":"t"}}},
{"data":{"name":"txt"},"transform":[{"filter":"datum.p=='A' && datum.r=='species'"}],"mark":{"type":"text","align":"left","baseline":"middle","fontSize":13.6,"fontStyle":"italic","color":"#262626"},"encoding":{"text":{"field":"t"}}},
{"data":{"name":"txt"},"transform":[{"filter":"datum.p=='A' && datum.r=='peak'"}],"mark":{"type":"text","align":"center","baseline":"middle","fontSize":13.5,"color":"#262626"},"encoding":{"text":{"field":"t"}}},
{"data":{"name":"txt"},"transform":[{"filter":"datum.p=='A' && datum.r=='water'"}],"mark":{"type":"text","align":"left","baseline":"middle","fontSize":14,"color":"#bdbdbd"},"encoding":{"text":{"field":"t"}}},
{"data":{"name":"txt"},"transform":[{"filter":"datum.p=='A' && datum.r=='unit'"}],"mark":{"type":"text","align":"right","baseline":"middle","fontSize":8,"fontWeight":"bold","color":"#444"},"encoding":{"text":{"field":"t"}}}
]},
{"width":362,"height":350,
"encoding":{"x":{"field":"x","type":"quantitative","scale":{"domain":[5.374,4.38],"nice":false,"zero":false},"axis":{"values":[5.3,5.25,5.2,5.15,5.1,5.05,5.0,4.95,4.9,4.85,4.8,4.75,4.7,4.65,4.6,4.55,4.5,4.45,4.4],"labelExpr":"(abs(datum.value*5-round(datum.value*5))<0.01 && datum.value>4.5) ? format(datum.value,'.1f') : ''"}},
"y":{"field":"y","type":"quantitative","scale":{"domain":[0,350],"nice":false,"zero":false},"axis":null}},
"layer":[
{"data":{"name":"base"},"transform":[{"filter":"datum.p=='B'"}],"mark":{"type":"rule","color":"#666","strokeWidth":0.8},"encoding":{"x2":{"field":"x2"}}},
{"data":{"name":"spec"},"transform":[{"filter":"datum.p=='B' && datum.s=='k'"}],"mark":{"type":"line","color":"#3c3c3c","strokeWidth":1},"encoding":{}},
{"data":{"name":"spec"},"transform":[{"filter":"datum.p=='B' && datum.s=='r'"}],"mark":{"type":"line","color":"#e95a76","strokeWidth":1},"encoding":{}},
{"data":{"name":"water"},"transform":[{"filter":"datum.p=='B'"}],"mark":{"type":"rule","color":"#a8a8a8","strokeWidth":1.2},"encoding":{"y2":{"field":"y2"}}},
{"data":{"name":"seg"},"transform":[{"filter":"datum.p=='B'"}],"mark":{"type":"rule","color":"#222","strokeWidth":1},"encoding":{"x2":{"field":"x2"},"y2":{"field":"y2"}}},
{"data":{"name":"txt"},"transform":[{"filter":"datum.p=='B' && datum.r=='letter'"}],"mark":{"type":"text","align":"left","baseline":"middle","fontSize":15,"fontWeight":"bold","color":"#1a1a1a"},"encoding":{"text":{"field":"t"}}},
{"data":{"name":"txt"},"transform":[{"filter":"datum.p=='B' && (datum.r=='title' || datum.r=='note')"}],"mark":{"type":"text","align":"left","baseline":"middle","fontSize":13.6,"color":"#262626"},"encoding":{"text":{"field":"t"}}},
{"data":{"name":"txt"},"transform":[{"filter":"datum.p=='B' && datum.r=='species'"}],"mark":{"type":"text","align":"left","baseline":"middle","fontSize":13.6,"fontStyle":"italic","color":"#262626"},"encoding":{"text":{"field":"t"}}},
{"data":{"name":"txt"},"transform":[{"filter":"datum.p=='B' && datum.r=='peak'"}],"mark":{"type":"text","align":"center","baseline":"middle","fontSize":13.5,"color":"#262626"},"encoding":{"text":{"field":"t"}}},
{"data":{"name":"txt"},"transform":[{"filter":"datum.p=='B' && datum.r=='unit'"}],"mark":{"type":"text","align":"right","baseline":"middle","fontSize":8,"fontWeight":"bold","color":"#444"},"encoding":{"text":{"field":"t"}}}
]},
{"width":385,"height":366,
"encoding":{"x":{"field":"x","type":"quantitative","scale":{"domain":[5.418,4.36],"nice":false,"zero":false},"axis":{"values":[5.3,5.25,5.2,5.15,5.1,5.05,5.0,4.95,4.9,4.85,4.8,4.75,4.7,4.65,4.6,4.55,4.5,4.45,4.4],"labelExpr":"(abs(datum.value*5-round(datum.value*5))<0.01 && datum.value>4.5) ? format(datum.value,'.1f') : ''"}},
"y":{"field":"y","type":"quantitative","scale":{"domain":[0,366],"nice":false,"zero":false},"axis":null}},
"layer":[
{"data":{"name":"base"},"transform":[{"filter":"datum.p=='C'"}],"mark":{"type":"rule","color":"#666","strokeWidth":0.8},"encoding":{"x2":{"field":"x2"}}},
{"data":{"name":"spec"},"transform":[{"filter":"datum.p=='C' && datum.s=='k'"}],"mark":{"type":"line","color":"#3c3c3c","strokeWidth":1},"encoding":{}},
{"data":{"name":"spec"},"transform":[{"filter":"datum.p=='C' && datum.s=='r'"}],"mark":{"type":"line","color":"#e95a76","strokeWidth":1},"encoding":{}},
{"data":{"name":"water"},"transform":[{"filter":"datum.p=='C'"}],"mark":{"type":"rule","color":"#a8a8a8","strokeWidth":1.2},"encoding":{"y2":{"field":"y2"}}},
{"data":{"name":"txt"},"transform":[{"filter":"datum.p=='C' && datum.r=='letter'"}],"mark":{"type":"text","align":"left","baseline":"middle","fontSize":15,"fontWeight":"bold","color":"#1a1a1a"},"encoding":{"text":{"field":"t"}}},
{"data":{"name":"txt"},"transform":[{"filter":"datum.p=='C' && (datum.r=='title' || datum.r=='note')"}],"mark":{"type":"text","align":"left","baseline":"middle","fontSize":13.6,"color":"#262626"},"encoding":{"text":{"field":"t"}}},
{"data":{"name":"txt"},"transform":[{"filter":"datum.p=='C' && datum.r=='species'"}],"mark":{"type":"text","align":"left","baseline":"middle","fontSize":13.6,"fontStyle":"italic","color":"#262626"},"encoding":{"text":{"field":"t"}}},
{"data":{"name":"txt"},"transform":[{"filter":"datum.p=='C' && datum.r=='peak'"}],"mark":{"type":"text","align":"center","baseline":"middle","fontSize":13.5,"color":"#262626"},"encoding":{"text":{"field":"t"}}},
{"data":{"name":"txt"},"transform":[{"filter":"datum.p=='C' && datum.r=='unit'"}],"mark":{"type":"text","align":"right","baseline":"middle","fontSize":8,"fontWeight":"bold","color":"#444"},"encoding":{"text":{"field":"t"}}}
]},
{"width":362,"height":366,
"encoding":{"x":{"field":"x","type":"quantitative","scale":{"domain":[5.371,4.377],"nice":false,"zero":false},"axis":{"values":[5.3,5.25,5.2,5.15,5.1,5.05,5.0,4.95,4.9,4.85,4.8,4.75,4.7,4.65,4.6,4.55,4.5,4.45,4.4],"labelExpr":"(abs(datum.value*5-round(datum.value*5))<0.01 && datum.value>4.5) ? format(datum.value,'.1f') : ''"}},
"y":{"field":"y","type":"quantitative","scale":{"domain":[0,366],"nice":false,"zero":false},"axis":null}},
"layer":[
{"data":{"name":"base"},"transform":[{"filter":"datum.p=='D'"}],"mark":{"type":"rule","color":"#666","strokeWidth":0.8},"encoding":{"x2":{"field":"x2"}}},
{"data":{"name":"spec"},"transform":[{"filter":"datum.p=='D' && datum.s=='k'"}],"mark":{"type":"line","color":"#3c3c3c","strokeWidth":1},"encoding":{}},
{"data":{"name":"spec"},"transform":[{"filter":"datum.p=='D' && datum.s=='r'"}],"mark":{"type":"line","color":"#e95a76","strokeWidth":1},"encoding":{}},
{"data":{"name":"water"},"transform":[{"filter":"datum.p=='D'"}],"mark":{"type":"rule","color":"#a8a8a8","strokeWidth":1.2},"encoding":{"y2":{"field":"y2"}}},
{"data":{"name":"dark"},"transform":[{"filter":"datum.p=='D'"}],"mark":{"type":"rule","color":"#222","strokeWidth":1.6},"encoding":{"y2":{"field":"y2"}}},
{"data":{"name":"seg"},"transform":[{"filter":"datum.p=='D'"}],"mark":{"type":"rule","color":"#222","strokeWidth":1},"encoding":{"x2":{"field":"x2"},"y2":{"field":"y2"}}},
{"data":{"name":"txt"},"transform":[{"filter":"datum.p=='D' && datum.r=='letter'"}],"mark":{"type":"text","align":"left","baseline":"middle","fontSize":15,"fontWeight":"bold","color":"#1a1a1a"},"encoding":{"text":{"field":"t"}}},
{"data":{"name":"txt"},"transform":[{"filter":"datum.p=='D' && (datum.r=='title' || datum.r=='note')"}],"mark":{"type":"text","align":"left","baseline":"middle","fontSize":13.6,"color":"#262626"},"encoding":{"text":{"field":"t"}}},
{"data":{"name":"txt"},"transform":[{"filter":"datum.p=='D' && datum.r=='species'"}],"mark":{"type":"text","align":"left","baseline":"middle","fontSize":13.6,"fontStyle":"italic","color":"#262626"},"encoding":{"text":{"field":"t"}}},
{"data":{"name":"txt"},"transform":[{"filter":"datum.p=='D' && datum.r=='peak'"}],"mark":{"type":"text","align":"center","baseline":"middle","fontSize":13.5,"color":"#262626"},"encoding":{"text":{"field":"t"}}},
{"data":{"name":"txt"},"transform":[{"filter":"datum.p=='D' && datum.r=='unit'"}],"mark":{"type":"text","align":"right","baseline":"middle","fontSize":8,"fontWeight":"bold","color":"#444"},"encoding":{"text":{"field":"t"}}}
]}
]
}
